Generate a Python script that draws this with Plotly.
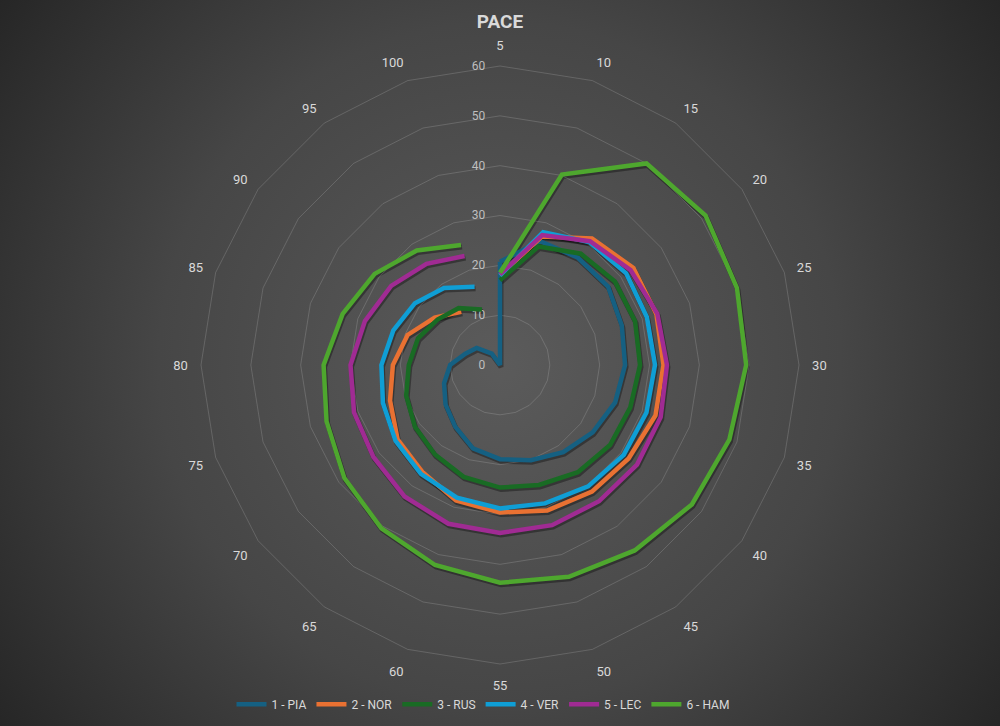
import base64
import plotly.graph_objects as go

# ---------------- data ----------------
categories = ["5", "10", "15", "20", "25", "30", "35", "40", "45", "50",
              "55", "60", "65", "70", "75", "80", "85", "90", "95", "100"]
radial_ticks = [0, 10, 20, 30, 40, 50, 60]

pia = [20.7, 26.1, 26.6, 26.8, 25.7, 25.1, 24.3, 23.0, 21.6, 20.1,
       18.9, 17.6, 15.3, 13.5, 11.8, 10.0, 7.3, 5.8, 2.8, 0.0]
nor = [18.0, 27.1, 31.4, 33.1, 33.0, 32.8, 32.8, 31.9, 31.4, 30.7,
       29.6, 28.6, 26.5, 25.4, 23.2, 21.5, 19.5, 16.2, 13.2, None]
rus = [17.0, 25.0, 27.6, 28.5, 28.5, 28.1, 27.5, 27.3, 26.6, 25.3,
       24.6, 23.6, 22.2, 21.1, 19.8, 18.3, 17.3, 15.5, 14.1, 11.7]
ver = [18.0, 28.0, 30.5, 31.3, 31.0, 31.1, 30.9, 30.7, 30.1, 29.2,
       28.8, 28.0, 27.0, 25.9, 24.7, 23.8, 22.5, 21.1, 19.1, 16.5]
lec = [18.2, 27.4, 30.7, 32.4, 33.2, 33.5, 33.9, 34.0, 33.8, 33.8,
       33.7, 33.5, 32.6, 31.4, 30.8, 30.0, 28.5, 27.0, 25.1, 23.0]
ham = [18.5, 40.2, 50.0, 51.0, 50.0, 49.4, 48.4, 47.6, 46.0, 44.7,
       43.7, 42.2, 40.5, 38.6, 36.6, 35.4, 33.2, 31.1, 28.4, 25.3]

series_names = ["1 - PIA", "2 - NOR", "3 - RUS", "4 - VER", "5 - LEC", "6 - HAM"]
series_values = [pia, nor, rus, ver, lec, ham]
series_colors = ["#156082", "#E97132", "#196B24", "#0F9ED5", "#A02B93", "#4EA72E"]
series_closed = [True, False, False, False, False, False]

# ---------------- styling ----------------
FONT = "Roboto"
TEXT = "#d9d9d9"
GRID = "rgba(217,217,217,0.2)"
W, H = 1000, 726

cx, cy, R = 500, 365, 299
dom_x = [(cx - R) / W, (cx + R) / W]
dom_y = [(H - cy - R) / H, (H - cy + R) / H]
sh_dx, sh_dy = 1, 2
dom_x_sh = [dom_x[0] + sh_dx / W, dom_x[1] + sh_dx / W]
dom_y_sh = [dom_y[0] - sh_dy / H, dom_y[1] - sh_dy / H]

fig = go.Figure()

def series_points(vals, closed):
    th = list(categories)
    r = list(vals)
    if closed:
        th.append(categories[0])
        r.append(vals[0])
    return th, r

# shadows (drawn on first polar, beneath)
for name, vals, col, closed in zip(series_names, series_values, series_colors, series_closed):
    th, r = series_points(vals, closed)
    fig.add_trace(go.Scatterpolar(
        r=r, theta=th, mode="lines", subplot="polar",
        line=dict(color="rgba(0,0,0,0.35)", width=5),
        hoverinfo="skip", showlegend=False, connectgaps=False,
    ))

# main lines
for name, vals, col, closed in zip(series_names, series_values, series_colors, series_closed):
    th, r = series_points(vals, closed)
    fig.add_trace(go.Scatterpolar(
        r=r, theta=th, mode="lines", subplot="polar2", name=name,
        line=dict(color=col, width=4.5), connectgaps=False,
    ))

svg = (
    f'<svg xmlns="http://www.w3.org/2000/svg" width="{W}" height="{H}">'
    '<defs><radialGradient id="g" gradientUnits="userSpaceOnUse" '
    f'cx="{W/2}" cy="{H/2}" r="620">'
    '<stop offset="0" stop-color="#5b5b5b"/>'
    '<stop offset="0.55" stop-color="#464646"/>'
    '<stop offset="1" stop-color="#262626"/>'
    '</radialGradient></defs>'
    f'<rect width="{W}" height="{H}" fill="url(#g)"/></svg>'
)
bg_src = "data:image/svg+xml;base64," + base64.b64encode(svg.encode()).decode()

common_radial = dict(range=[0, 60], tickvals=radial_ticks, angle=90)

fig.update_layout(
    width=W, height=H,
    margin=dict(l=0, r=0, t=0, b=0),
    paper_bgcolor="#262626",
    font=dict(family=FONT, color=TEXT),
    images=[dict(source=bg_src, xref="paper", yref="paper", x=0, y=1,
                 sizex=1, sizey=1, xanchor="left", yanchor="top",
                 sizing="stretch", layer="below")],
    title=dict(text="<b>PACE</b>", x=0.5, xanchor="center", y=0.97, yanchor="middle",
               font=dict(family=FONT, size=19, color=TEXT)),
    polar=dict(
        domain=dict(x=dom_x_sh, y=dom_y_sh),
        bgcolor="rgba(0,0,0,0)",
        gridshape="linear",
        radialaxis=dict(**common_radial, showline=False, showgrid=False,
                        showticklabels=False, ticks=""),
        angularaxis=dict(type="category", categoryarray=categories, rotation=90,
                         direction="clockwise", showgrid=False, showline=False,
                         showticklabels=False, ticks=""),
    ),
    polar2=dict(
        domain=dict(x=dom_x, y=dom_y),
        bgcolor="rgba(0,0,0,0)",
        gridshape="linear",
        radialaxis=dict(**common_radial, showline=False, showgrid=True,
                        gridcolor=GRID, gridwidth=1,
                        ticks="outside", ticklen=10, tickcolor="rgba(0,0,0,0)",
                        side="counterclockwise", tickangle=90,
                        tickfont=dict(family=FONT, size=12, color="#bfbfbf"),
                        layer="below traces"),
        angularaxis=dict(type="category", categoryarray=categories, rotation=90,
                         direction="clockwise", showgrid=False, showline=True,
                         linecolor=GRID, linewidth=1,
                         ticks="outside", ticklen=10, tickcolor="rgba(0,0,0,0)",
                         tickfont=dict(family=FONT, size=13, color=TEXT),
                         layer="below traces"),
    ),
    legend=dict(orientation="h", x=0.483, xanchor="center", y=0.03, yanchor="middle",
                font=dict(family=FONT, size=12, color=TEXT),
                bgcolor="rgba(0,0,0,0)", itemwidth=30),
)

fig.write_html(
    "out.html",
    config={"displayModeBar": False},
    post_script="document.body.style.margin='0';document.body.style.overflow='hidden';",
)
